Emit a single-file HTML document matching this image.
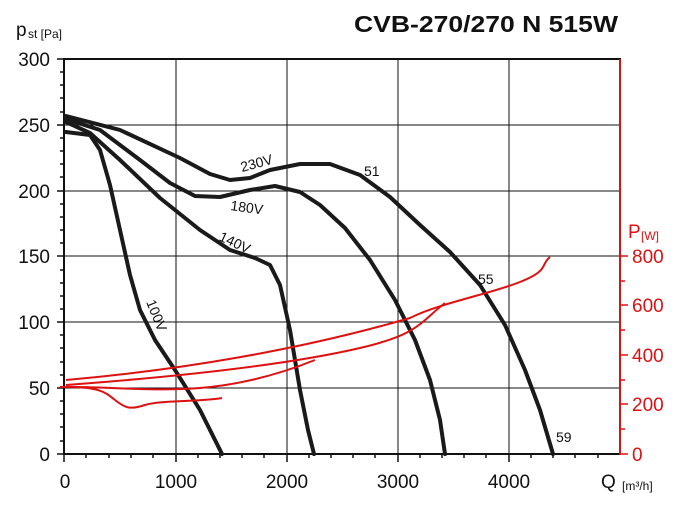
<!DOCTYPE html><html><head><style>body{margin:0;background:#fff}svg{font-family:"Liberation Sans",sans-serif}</style></head><body>
<svg width="682" height="510" viewBox="0 0 682 510" xmlns="http://www.w3.org/2000/svg">
<g stroke="#111" stroke-width="1">
<line x1="176" y1="59" x2="176" y2="454"/><line x1="287" y1="59" x2="287" y2="454"/><line x1="398" y1="59" x2="398" y2="454"/><line x1="509" y1="59" x2="509" y2="454"/>
<line x1="64" y1="125" x2="620" y2="125"/><line x1="64" y1="191" x2="620" y2="191"/><line x1="64" y1="256" x2="620" y2="256"/><line x1="64" y1="322" x2="620" y2="322"/><line x1="64" y1="388" x2="620" y2="388"/>
</g>
<g stroke="#111" stroke-width="2" fill="none"><line x1="64" y1="59" x2="621" y2="59"/><line x1="64" y1="58" x2="64" y2="455"/><line x1="64" y1="454" x2="621" y2="454"/></g>
<line x1="620" y1="59" x2="620" y2="455" stroke="#d11" stroke-width="2"/>
<g stroke="#111" stroke-width="1.5">
<path d="M57 59H64M57 125H64M57 191H64M57 256H64M57 322H64M57 388H64M57 454H64"/>
<path d="M60 72H64M60 85H64M60 98H64M60 112H64M60 138H64M60 151H64M60 164H64M60 177H64M60 204H64M60 217H64M60 230H64M60 243H64M60 270H64M60 283H64M60 296H64M60 309H64M60 335H64M60 348H64M60 362H64M60 375H64M60 401H64M60 414H64M60 427H64M60 441H64"/>
<path d="M64 454V462M176 454V462M287 454V462M398 454V462M509 454V462M86 454V458M109 454V458M131 454V458M153 454V458M198 454V458M220 454V458M242 454V458M264 454V458M309 454V458M331 454V458M353 454V458M375 454V458M420 454V458M442 454V458M464 454V458M486 454V458M531 454V458M553 454V458M575 454V458M598 454V458"/>
</g>
<g stroke="#d11" stroke-width="1.5"><path d="M620 256H628M620 305H628M620 355H628M620 404H628M620 454H628M620 281H625M620 330H625M620 380H625M620 429H625"/></g>
<g fill="#111" font-size="19" text-anchor="end"><text x="50" y="66">300</text><text x="50" y="132">250</text><text x="50" y="198">200</text><text x="50" y="263">150</text><text x="50" y="329">100</text><text x="50" y="395">50</text><text x="50" y="461">0</text></g>
<g fill="#111" font-size="19" text-anchor="middle"><text x="65" y="488">0</text><text x="176" y="488">1000</text><text x="287" y="488">2000</text><text x="398" y="488">3000</text><text x="509" y="488">4000</text></g>
<text x="601" y="488" font-size="19" fill="#111">Q</text><text x="622" y="490" font-size="12" fill="#111">[m³/h]</text>
<text x="16" y="36" font-size="19" fill="#111">p</text><text x="28" y="38" font-size="12" fill="#111">st [Pa]</text>
<text x="354" y="32" font-size="23" font-weight="bold" fill="#111" textLength="264" lengthAdjust="spacingAndGlyphs">CVB-270/270 N 515W</text>
<g fill="#d11" font-size="19"><text x="628" y="238">P</text><text x="641" y="240" font-size="12">[W]</text>
<text x="632" y="263">800</text><text x="632" y="312">600</text><text x="632" y="362">400</text><text x="632" y="411">200</text><text x="632" y="461">0</text></g>
<g stroke="#1a1a1a" stroke-width="4" fill="none" stroke-linecap="round" stroke-linejoin="round">
<polyline points="66,116 120,130 180,158 210,174 230,180 250,178 270,170 300,164 330,164 360,175 390,197 420,225 450,252 480,285 505,325 525,370 540,410 553,454"/>
<polyline points="66,119 100,130 140,160 170,183 195,196 220,197 250,190 275,186 300,192 320,205 345,228 370,260 395,300 415,340 430,380 440,420 445,454"/>
<polyline points="66,122 90,133 120,160 160,198 200,230 230,250 255,258 270,265 280,285 290,330 300,390 308,430 314,454"/>
<polyline points="66,132 90,135 100,150 110,185 120,230 130,275 140,310 155,340 175,370 200,410 222,454"/>
</g>
<g stroke="#d11" stroke-width="2" fill="none">
<path d="M66 380C180 370 300 350 410 318C440 303 490 294 520 282S540 265 550 257"/>
<path d="M66 385C200 375 300 362 360 348S420 322 445 303"/>
<path d="M60 387C100 386 150 392 200 388S290 370 315 360"/>
<path d="M66 387C100 387 105 392 115 400S130 410 145 405S200 402 222 398"/>
</g>
<g fill="#111" font-size="14">
<text x="242" y="172" transform="rotate(-15 242 172)">230V</text>
<text x="230" y="210" transform="rotate(8 230 210)">180V</text>
<text x="218" y="240" transform="rotate(25 218 240)">140V</text>
<text x="146" y="302" transform="rotate(68 146 302)">100V</text>
<text x="364" y="176">51</text><text x="478" y="284">55</text><text x="556" y="442">59</text>
</g>
</svg></body></html>
